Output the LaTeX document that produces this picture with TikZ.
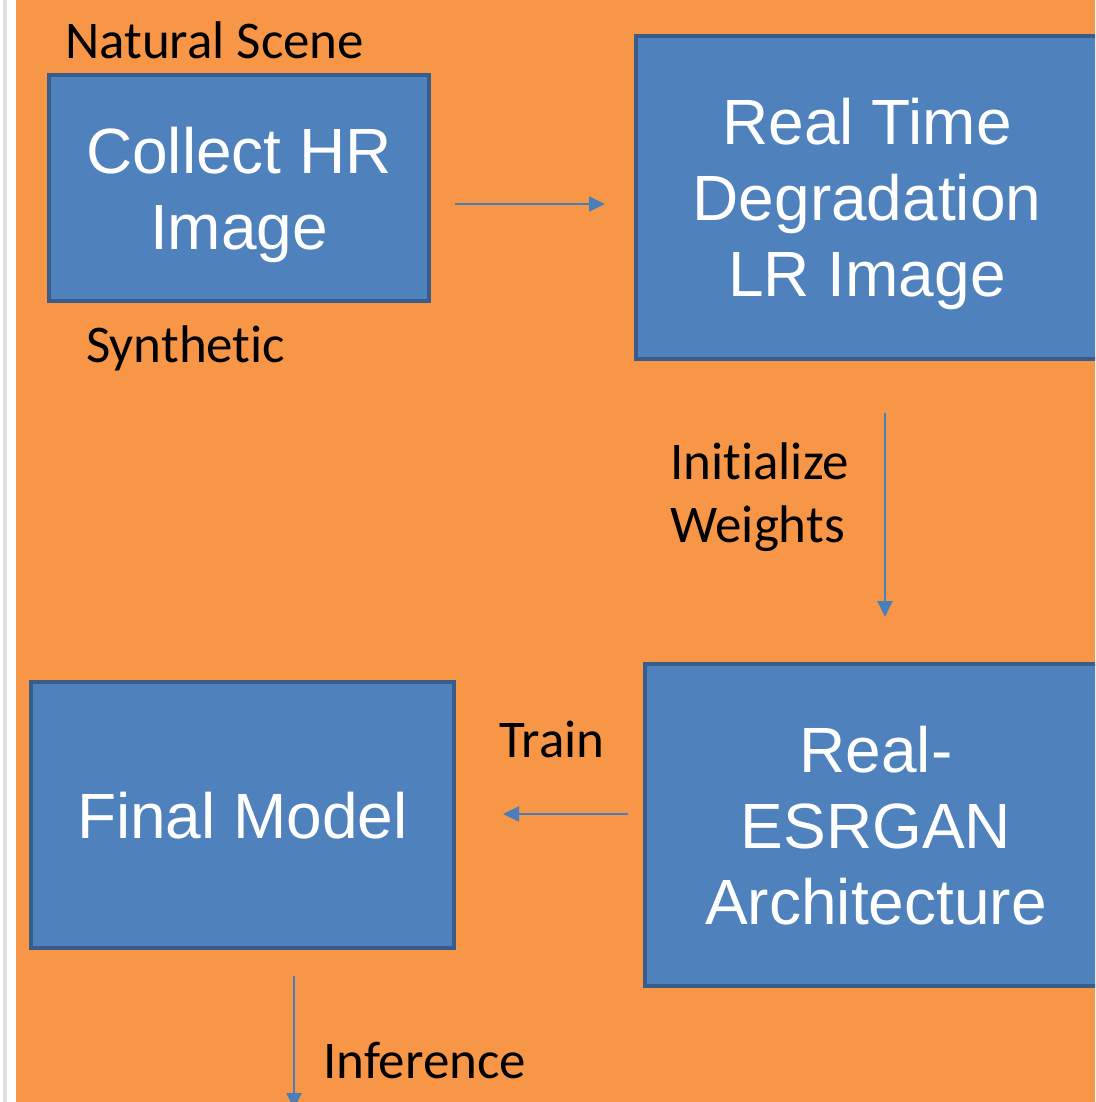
\documentclass[tikz,border=0pt]{standalone}
\usepackage{fontspec}
\usetikzlibrary{arrows.meta}
\newfontfamily\boxfont{Liberation Sans}
\newfontfamily\labfont[Ligatures=NoCommon]{Carlito}
\definecolor{bgorange}{HTML}{F79646}
\definecolor{boxfill}{HTML}{4F81BD}
\definecolor{boxline}{HTML}{385D8A}
\definecolor{arrowc}{HTML}{4A7EBB}
\newcommand{\topst}{\rule{0pt}{60pt}}
\newcommand{\botst}{\rule[-14pt]{0pt}{0pt}}
\begin{document}
\begin{tikzpicture}[x=1pt,y=-1pt,
  procbox/.style={rectangle, draw=boxline, line width=4pt, fill=boxfill, text=white,
    align=center, inner sep=0pt, font=\boxfont\fontsize{64}{76}\selectfont},
  lab/.style={anchor=base west, inner sep=0pt, text=black, align=left,
    font=\labfont\fontsize{53}{63}\selectfont},
  arr/.style={draw=arrowc, line width=2pt, -{Triangle[length=16pt,width=15pt]}}]
\useasboundingbox (0,0) rectangle (1095,1102);
\clip (0,0) rectangle (1095,1102);
\fill[white] (0,0) rectangle (16,1102);
\fill[bgorange] (16,0) rectangle (1095,1102);
\draw[black!12, line width=4pt] (5,0) -- (5,1102);

\node[procbox, minimum width=380pt, minimum height=226pt] (hr) at (239,188) {\topst Collect HR\\Image\botst};
\node[procbox, minimum width=462pt, minimum height=323pt] (lr) at (867,197.5) {\topst Real Time\\Degradation\\LR Image\botst};
\node[procbox, minimum width=462pt, minimum height=322pt] (gan) at (876,825) {\topst Real-\\ESRGAN\\Architecture\botst};
\node[procbox, minimum width=423pt, minimum height=266pt] (final) at (242.5,815) {\topst Final Model\botst};

\node[lab] (natural) at (65,59) {Natural Scene};
\node[lab] (synthetic) at (86,362) {Synthetic};
\node[lab] (init) at (670,542) {Initialize\\Weights};
\node[lab] (train) at (499,757) {Train};
\node[lab] (inference) at (323,1078) {Inference};

\coordinate (a1s) at (455,204);
\coordinate (a1e) at (605,204);
\coordinate (a2s) at (885,413);
\coordinate (a2e) at (885,617);
\coordinate (a3s) at (628,814);
\coordinate (a3e) at (503,814);
\coordinate (a4s) at (294,976);
\coordinate (a4e) at (294,1109);
\draw[arr] (a1s) -- (a1e);
\draw[arr] (a2s) -- (a2e);
\draw[arr] (a3s) -- (a3e);
\draw[arr] (a4s) -- (a4e);
\end{tikzpicture}
\end{document}
